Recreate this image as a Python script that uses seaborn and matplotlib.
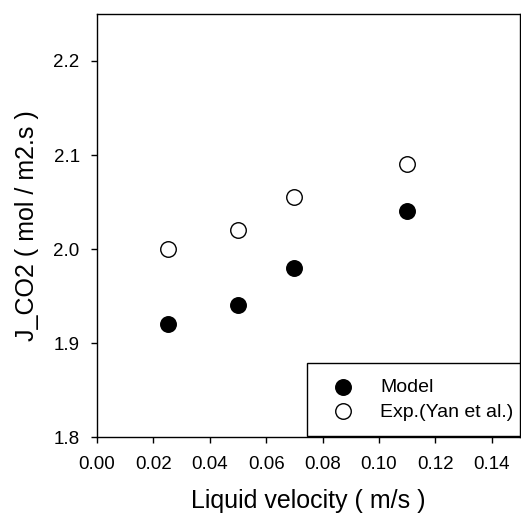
import matplotlib
matplotlib.use("Agg")
import matplotlib.pyplot as plt
import seaborn as sns
import pandas as pd

velocity = [0.025, 0.05, 0.07, 0.11]
model_flux = [1.92, 1.94, 1.98, 2.04]
exp_flux = [2.00, 2.02, 2.055, 2.09]
x_ticks = [0.00, 0.02, 0.04, 0.06, 0.08, 0.10, 0.12, 0.14]
y_ticks = [1.8, 1.9, 2.0, 2.1, 2.2]

sns.set_style("ticks")
plt.rcParams['font.family'] = ['Liberation Sans', 'DejaVu Sans']
plt.rcParams['text.color'] = 'black'
plt.rcParams['axes.labelcolor'] = 'black'

df = pd.DataFrame({
    "v": velocity * 2,
    "J": model_flux + exp_flux,
    "series": ["Model"] * len(velocity) + ["Exp.(Yan et al.)"] * len(velocity),
})

fig = plt.figure(figsize=(5.21, 5.17), dpi=100)
ax = fig.add_axes([97/521, 80/517, 423/521, 423/517])

sns.scatterplot(data=df[df.series == "Model"], x="v", y="J", ax=ax,
                color="black", edgecolor="black", s=125, linewidth=1,
                label="Model", zorder=3)
sns.scatterplot(data=df[df.series != "Model"], x="v", y="J", ax=ax,
                facecolor="white", edgecolor="black", s=125, linewidth=1,
                label="Exp.(Yan et al.)", zorder=3)

ax.set_xlim(0, 0.15)
ax.set_ylim(1.8, 2.25)
ax.set_xticks(x_ticks)
ax.set_xticklabels([f"{t:.2f}" for t in x_ticks])
ax.set_yticks(y_ticks)
ax.set_yticklabels([f"{t:.1f}" for t in y_ticks])
ax.tick_params(direction="out", length=4.5, width=1, colors="black",
               labelsize=13.5)
ax.tick_params(axis="x", pad=9)
ax.tick_params(axis="y", pad=8)
for s in ax.spines.values():
    s.set_visible(True)
    s.set_color("black")
    s.set_linewidth(1)
    s.set_zorder(6)

ax.set_xlabel("Liquid velocity ( m/s )", fontsize=18, labelpad=12, color="black")
ax.set_ylabel("J_CO2 ( mol / m2.s )", fontsize=18, labelpad=10, color="black")

leg = ax.legend(loc="upper left", bbox_to_anchor=(210/423, 74/423), borderaxespad=0,
                frameon=True, fancybox=False, fontsize=14, markerscale=1.0,
                handlelength=2.1, handletextpad=0.85, borderpad=0.8,
                labelspacing=0.35)
leg.get_frame().set_edgecolor("black")
leg.get_frame().set_linewidth(1)
leg.get_frame().set_alpha(1)
leg.set_zorder(5)

fig.savefig("out.png", dpi=100)
